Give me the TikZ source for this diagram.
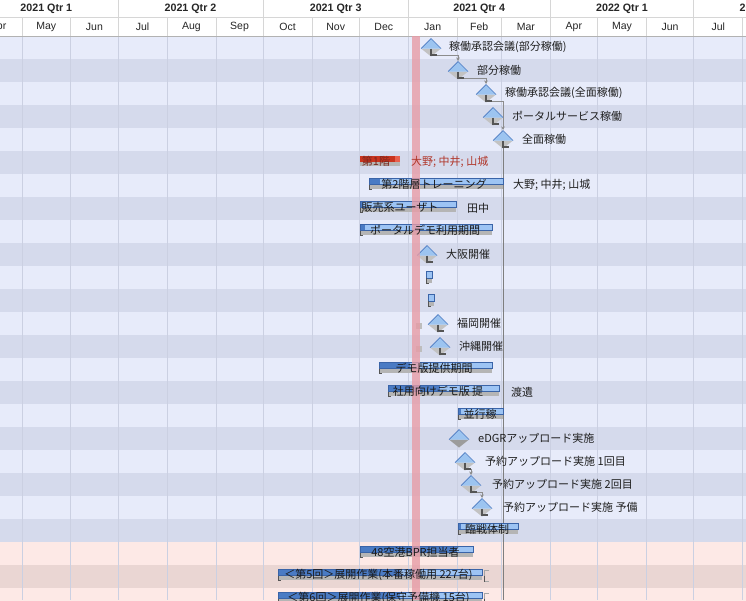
\documentclass[tikz,border=0pt]{standalone}
\usepackage{fontspec}
\setmainfont{Liberation Sans}
\newfontfamily\jp{Noto Sans CJK JP}
\usetikzlibrary{calc,arrows.meta}
\pgfdeclarelayer{band}
\pgfdeclarelayer{txt}
\pgfsetlayers{main,band,txt}
\definecolor{rowA}{HTML}{E7EBFA}
\definecolor{rowB}{HTML}{D5DAEC}
\definecolor{pinkA}{HTML}{FDE9E6}
\definecolor{pinkB}{HTML}{EAD6D3}
\definecolor{gridc}{HTML}{CBD0E2}
\definecolor{hdrline}{HTML}{D6D6D6}
\definecolor{today}{HTML}{E79CA6}
\definecolor{barlt}{HTML}{9DC4F4}
\definecolor{bardk}{HTML}{4A7BC4}
\definecolor{barln}{HTML}{3A64A8}
\definecolor{shadowc}{HTML}{B5B5B5}
\definecolor{msfill}{HTML}{9CC4F0}
\definecolor{msline}{HTML}{4A78C0}
\definecolor{msgray}{HTML}{C2C2C2}
\definecolor{msgraydk}{HTML}{9C9C9C}
\definecolor{lmk}{HTML}{555555}
\definecolor{connc}{HTML}{8C8C8C}
\definecolor{redbar}{HTML}{C9341F}
\definecolor{redlt}{HTML}{E8604E}
\definecolor{redtxt}{HTML}{B0362A}
\definecolor{sqc}{HTML}{BDBDBD}

\newcommand\msone[6]{%
  \coordinate (#1) at (#2,#3);
  \fill[#6] (#2-10,#3+1) -- (#2+10,#3+1) -- (#2,#3+9) -- cycle;
  \fill[msfill] (#2-10,#3+1) -- (#2+10,#3+1) -- (#2,#3-9) -- cycle;
  \draw[msline,line width=0.7pt] (#2-10,#3+1) -- (#2,#3-9) -- (#2+10,#3+1);
  \begin{pgfonlayer}{txt}\node[lbl] (#1t) at (#5,#3-0.5) {#4};\end{pgfonlayer}}
\newcommand\mslmark[1]{\draw[lmark] ($(#1)+(0,1)$) -- ++(0,6.5) -- ++(6,0);}
\newcommand\gbar[7]{%
  \fill[shadowc] (#3,#2-1) rectangle (#4,#2+3.5);
  \fill[barlt] (#3,#2-7) rectangle (#4,#2-1);
  \fill[bardk] (#3,#2-7) rectangle (#5,#2-1);
  \draw[barln,line width=0.6pt] (#3,#2-7) rectangle (#4,#2-1);
  \draw[lmk,line width=0.9pt] (#3+0.5,#2-1) -- (#3+0.5,#2+3.5) -- (#3+3,#2+3.5);
  \begin{pgfonlayer}{txt}\node[btxt] (#1) at (#7,#2-1.5) {#6};\end{pgfonlayer}}

\begin{document}
\begin{tikzpicture}[x=1pt,y=-1pt,
  lbl/.style={font=\jp\fontsize{11}{13}\selectfont, text=black!88, inner sep=0pt, anchor=west},
  btxt/.style={font=\jp\fontsize{11}{13}\selectfont, text=black!90, inner sep=0pt},
  hq/.style={font=\bfseries\fontsize{10.7}{12}\selectfont, text=black!85, inner sep=0pt},
  hm/.style={font=\fontsize{10.5}{12}\selectfont, text=black!85, inner sep=0pt},
  conn/.style={draw=connc, line width=0.7pt, -{Stealth[length=3.5pt,width=3.5pt]}},
  lmark/.style={draw=lmk, line width=1.3pt},
  gline/.style={draw=gridc, line width=0.5pt},
  hline/.style={draw=hdrline, line width=0.6pt}]
\useasboundingbox (0,0) rectangle (746,600);
\begin{scope}
\clip (0,0) rectangle (746,600);
% header
\fill[white] (0,0) rectangle (746,36);
% body rows
\foreach \k in {0,...,21}{%
  \ifodd\k \fill[rowB] (0,{36+23*\k}) rectangle (746,{59+23*\k});
  \else \fill[rowA] (0,{36+23*\k}) rectangle (746,{59+23*\k}); \fi}
\fill[pinkA] (0,542) rectangle (746,565);
\fill[pinkB] (0,565) rectangle (746,588);
\fill[pinkA] (0,588) rectangle (746,611);
% grid
\foreach \x in {21.8,70.7,118.0,166.9,215.8,263.1,312.0,359.3,408.2,457.1,501.3,550.2,597.5,646.4,693.7,742.6}{%
  \draw[gline] (\x,36) -- (\x,600);
  \draw[hline] (\x,17.5) -- (\x,36);}
\foreach \x in {118.0,263.1,408.2,550.2,693.7}{\draw[hline] (\x,0) -- (\x,17.5);}
\draw[hline] (0,17.5) -- (746,17.5);
\draw[draw=black!30,line width=0.7pt] (0,36) -- (746,36);
\foreach \x/\t [count=\i] in {46.3/2021 Qtr 1,190.5/2021 Qtr 2,335.7/2021 Qtr 3,479.2/2021 Qtr 4,622/2022 Qtr 1,765.5/2022 Qtr 2}
  {\node[hq] (q\i) at (\x,8.5) {\t};}
\foreach \x/\t [count=\i] in {-1.9/Apr,46.3/May,94.4/Jun,142.5/Jul,191.4/Aug,239.5/Sep,287.6/Oct,335.7/Nov,383.8/Dec,432.7/Jan,479.2/Feb,525.8/Mar,573.9/Apr,622/May,670.1/Jun,718.2/Jul}
  {\node[hm] (mo\i) at (\x,27) {\t};}

% milestones
\msone{m0}{431}{47.5}{稼働承認会議(部分稼働)}{449}{msgray}\mslmark{m0}
\msone{m1}{458}{70.5}{部分稼働}{477}{msgray}\mslmark{m1}
\msone{m2}{486}{93.5}{稼働承認会議(全面稼働)}{505}{msgray}\mslmark{m2}
\msone{m3}{493}{116.5}{ポータルサービス稼働}{512}{msgray}\mslmark{m3}
\msone{m4}{503}{139.5}{全面稼働}{522}{msgray}\mslmark{m4}
\msone{m9}{427}{254.5}{大阪開催}{446}{msgray}\mslmark{m9}
\msone{m12}{438}{323.5}{福岡開催}{457}{msgray}\mslmark{m12}
\msone{m13}{440}{346.5}{沖縄開催}{459}{msgray}\mslmark{m13}
\msone{m17}{459}{438.5}{eDGRアップロード実施}{478}{msgraydk}
\msone{m18}{465}{461.5}{予約アップロード実施 1回目}{485}{msgray}\mslmark{m18}
\msone{m19}{471}{484.5}{予約アップロード実施 2回目}{492}{msgray}\mslmark{m19}
\msone{m20}{482}{507.5}{予約アップロード実施 予備}{503}{msgray}\mslmark{m20}

% connectors
\draw[conn] ($(m0)+(6,7.5)$) -| ($(m1)+(0,-9.5)$);
\draw[conn] ($(m1)+(6,7.5)$) -| ($(m2)+(0,-9.5)$);
\draw[conn] ($(m2)+(6,7.5)$) -| ($(m4)+(0,-9.5)$);
\coordinate (endln) at (503,600);
\draw[draw=connc!90!black,line width=0.9pt] ($(m4)+(0,8.5)$) -- (endln);
\draw[conn] ($(m18)+(6,7.5)$) -| ($(m19)+(0,-9.5)$);
\draw[conn] ($(m19)+(6,7.5)$) -| ($(m20)+(0,-9.5)$);

% red bar
\fill[shadowc] (360,161.5) rectangle (400,165.5);
\fill[redbar] (360,155.5) rectangle (400,161.5);
\fill[redlt] (395,155.5) rectangle (400,161.5);
\begin{pgfonlayer}{txt}
\node[btxt,text=redtxt!70!black] (r5) at (376,161) {第1階};
\node[lbl,text=redtxt] (r5l) at (411,161.5) {大野; 中井; 山城};
\end{pgfonlayer}

% bars
\gbar{b6}{185.5}{369}{503}{380}{第2階層トレーニング}{434}
\gbar{b7}{208.5}{360}{456}{363}{販売系ユーザト}{400}
\gbar{b8}{231.5}{360}{492}{365}{ポータルデモ利用期間}{425}
\gbar{b14}{369.5}{379}{492}{410}{デモ版提供期間}{434}
\gbar{b15}{392.5}{388}{499}{440}{社用向けデモ版 提}{438}
\gbar{b16}{415.5}{458}{503}{461}{並行稼}{480}
\gbar{b21}{530.5}{458}{518}{461}{臨戦体制}{487}
\gbar{b22}{553.5}{360}{473}{457}{48空港BPR担当者}{415.5}
\gbar{b23}{576.5}{278}{482}{400}{＜第5回＞展開作業(本番稼働用 227台)}{378.5}
\gbar{b24}{599.5}{278}{482}{400}{＜第6回＞展開作業(保守予備機 15台)}{378.5}
\foreach \c in {576.5,599.5}{%
  \draw[draw=black!35,line width=0.7pt] (489,\c-6) -- (484,\c-6) -- (484,\c+5) -- (489,\c+5);
  \draw[lmk,line width=1pt] (484,\c-1) -- (484,\c+5);}
\begin{pgfonlayer}{txt}
\node[lbl] (b6l) at (513,185) {大野; 中井; 山城};
\node[lbl] (b7l) at (467,208) {田中};
\node[lbl] (b15l) at (511,392) {渡遺};
\end{pgfonlayer}

% tiny bars and markers
\fill[shadowc] (426,278) rectangle (432,283);
\fill[barlt] (426,271.5) rectangle (432,278);
\draw[barln,line width=0.6pt] (426,271.5) rectangle (432,278);
\draw[lmk,line width=0.9pt] (426.5,278) -- (426.5,283) -- (429,283);
\fill[shadowc] (428,301) rectangle (434,306);
\fill[barlt] (428,294.5) rectangle (434,301);
\draw[barln,line width=0.6pt] (428,294.5) rectangle (434,301);
\draw[lmk,line width=0.9pt] (428.5,301) -- (428.5,306) -- (431,306);
\fill[sqc] (416,323) rectangle (422,329);
\fill[sqc] (416,346) rectangle (422,352);

% today band
\begin{pgfonlayer}{band}
\fill[today,opacity=0.8] (412,36) rectangle (420,600);
\end{pgfonlayer}
\end{scope}
\end{tikzpicture}
\end{document}
